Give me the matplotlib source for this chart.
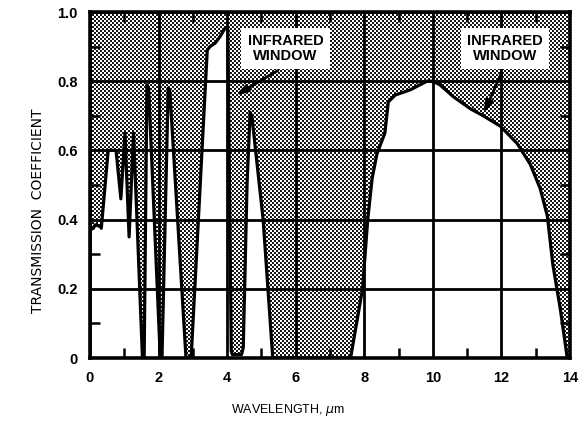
import numpy as np
import matplotlib
matplotlib.use('Agg')
from matplotlib import pyplot as plt

# curva de transmision (longitud de onda en um)
wavelength = [0.00, 0.10, 0.15, 0.30, 0.33, 0.53, 0.76, 0.90, 1.02, 1.14,
              1.27, 1.53, 1.58, 1.66, 1.71, 2.05, 2.10, 2.28, 2.33, 2.80,
              2.95, 3.42, 3.50, 3.65, 3.80, 3.95, 4.02, 4.12, 4.15, 4.42,
              4.47, 4.58, 4.67, 4.72, 5.05, 5.33, 7.50, 7.60, 7.95, 8.10,
              8.23, 8.37, 8.60, 8.70, 8.90, 9.34, 9.83, 10.00, 10.20, 10.60,
              11.10, 11.47, 11.97, 12.46, 12.84, 13.13, 13.34, 13.50, 13.72, 13.92,
              14.00]
transmission = [0.37, 0.375, 0.385, 0.38, 0.375, 0.60, 0.60, 0.46, 0.65, 0.35,
                0.65, 0.00, 0.00, 0.79, 0.78, 0.00, 0.00, 0.78, 0.77, 0.00,
                0.00, 0.89, 0.90, 0.91, 0.93, 0.955, 0.95, 0.02, 0.01, 0.01,
                0.03, 0.50, 0.71, 0.70, 0.40, 0.00, 0.00, 0.00, 0.20, 0.40,
                0.52, 0.59, 0.65, 0.74, 0.76, 0.775, 0.80, 0.80, 0.79, 0.755,
                0.72, 0.70, 0.67, 0.62, 0.56, 0.49, 0.41, 0.27, 0.14, 0.00,
                0.00]

xticks = [0, 2, 4, 6, 8, 10, 12, 14]
yticks = [0, 0.2, 0.4, 0.6, 0.8, 1.0]
ytick_labels = ['0', '0.2', '0.4', '0.6', '0.8', '1.0']

# ventanas infrarrojas: (texto, punta flecha, origen flecha)
windows = [((5.70, 0.895), (4.18, 0.755), (5.55, 0.835)),
           ((12.10, 0.895), (11.45, 0.70), (12.03, 0.83))]

plt.rcParams['font.family'] = ['Liberation Sans', 'DejaVu Sans']

fig = plt.figure(figsize=(5.8, 4.26), dpi=100)
ax = fig.add_axes([90/580, 68/426, 480/580, 346/426])

# punteado (zona absorbida, por encima de la curva)
ii, jj = np.mgrid[0:346, 0:480]
pattern = ((ii // 2 + jj // 2) % 2).astype(float)
im = ax.imshow(pattern, cmap='gray', extent=(0, 14, 0, 1), aspect='auto',
               interpolation='nearest', zorder=1, vmin=-0.1, vmax=1)
fill = ax.fill_between(wavelength, transmission, 1, facecolor='none',
                       edgecolor='none')
im.set_clip_path(fill.get_paths()[0], ax.transData)

ax.plot(wavelength, transmission, color='black', lw=2.3, zorder=3,
        solid_joinstyle='round')

ax.set_xlim(0, 14)
ax.set_ylim(0, 1)
ax.set_xticks(xticks)
ax.set_yticks(yticks)
ax.set_yticklabels(ytick_labels)
ax.set_xticks(np.arange(1, 14, 2), minor=True)
ax.set_yticks([0.1, 0.3, 0.5, 0.7, 0.9], minor=True)
ax.tick_params(which='major', length=0, labelsize=10.5, pad=9)
ax.tick_params(which='minor', direction='in', length=7, width=1.8,
               top=True, right=True)
for lab in ax.get_xticklabels() + ax.get_yticklabels():
    lab.set_fontweight('bold')

ax.grid(True, which='major', color='black', lw=2.0)
ax.set_axisbelow(False)
for s in ax.spines.values():
    s.set_linewidth(2.6)

for txt_pos, tip, tail in windows:
    ax.text(txt_pos[0], txt_pos[1], 'INFRARED\nWINDOW', ha='center', va='center',
            fontsize=10.5, fontweight='bold', linespacing=1.05, zorder=5,
            bbox=dict(facecolor='white', edgecolor='none', pad=4.5))
    ax.annotate('', xy=tip, xytext=tail, zorder=5,
                arrowprops=dict(arrowstyle='-|>,head_length=0.7,head_width=0.22',
                                color='black', lw=2.0))

ax.set_xlabel('WAVELENGTH, $\\mu$m', fontsize=9)
ax.xaxis.set_label_coords(0.4125, -0.128)
ax.set_ylabel('TRANSMISSION  COEFFICIENT', fontsize=10, family=['DejaVu Sans'])
ax.yaxis.set_label_coords(-0.094, 0.425)

plt.savefig('out.png', dpi=100)
